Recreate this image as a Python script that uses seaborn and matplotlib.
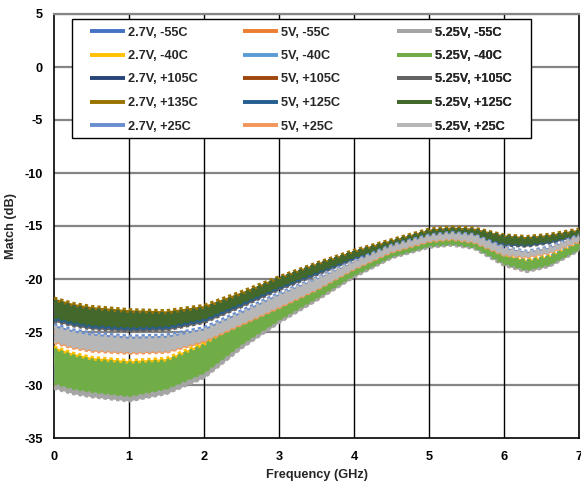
import matplotlib
matplotlib.use("Agg")
import matplotlib.pyplot as plt
import seaborn as sns
import pandas as pd
from matplotlib.lines import Line2D
from matplotlib.patches import Rectangle

# ---------------- data ----------------
freq_ghz = [0, 0.25, 0.5, 1, 1.5, 2, 2.5, 3, 3.5, 4, 4.5, 5, 5.3, 5.6, 6, 6.3, 6.6, 7]

# ripple envelopes (upper / lower), dB
# cold band: -55C / -40C
up_27_m55 = [-26.8, -27.4, -27.8, -28.1, -27.9, -26.4, -24.2, -22.6, -20.7, -18.8, -17.45, -16.45, -16.15, -16.55, -17.85, -18.35, -17.95, -16.65]
lo_27_m55 = [-29.6, -30.1, -30.4, -30.8, -30.1, -28.6, -25.9, -23.7, -21.6, -19.5, -17.8, -16.8, -16.6, -16.9, -18.4, -19.0, -18.5, -17.1]
up_5_m55 = [-27.4, -28.0, -28.4, -28.7, -28.5, -27.0, -24.6, -22.9, -21.0, -19.0, -17.6, -16.6, -16.3, -16.7, -18.0, -18.5, -18.1, -16.8]
lo_5_m55 = [-30.2, -30.7, -31.0, -31.4, -30.7, -29.2, -26.4, -24.0, -21.95, -19.75, -17.95, -16.95, -16.75, -17.05, -18.65, -19.25, -18.75, -17.25]
up_525_m55 = [-27.4, -28.0, -28.4, -28.7, -28.5, -27.0, -24.6, -22.9, -21.0, -19.0, -17.6, -16.6, -16.3, -16.7, -18.0, -18.5, -18.1, -16.8]
lo_525_m55 = [-30.3, -30.8, -31.1, -31.5, -30.8, -29.3, -26.5, -24.1, -22.0, -19.8, -18.0, -17.0, -16.8, -17.1, -18.7, -19.3, -18.8, -17.3]
up_27_m40 = [-26.4, -27.0, -27.4, -27.7, -27.5, -26.0, -23.9, -22.3, -20.5, -18.6, -17.3, -16.3, -16.0, -16.4, -17.7, -18.2, -17.8, -16.5]
lo_27_m40 = [-27.9, -28.5, -28.9, -29.2, -29.0, -27.5, -25.1, -23.2, -21.2, -19.2, -17.7, -16.7, -16.4, -16.8, -18.2, -18.7, -18.3, -16.9]
up_5_m40 = [-26.8, -27.4, -27.8, -28.1, -27.9, -26.4, -24.2, -22.6, -20.7, -18.8, -17.45, -16.45, -16.15, -16.55, -17.85, -18.35, -17.95, -16.65]
lo_5_m40 = [-29.5, -30.0, -30.3, -30.7, -30.0, -28.5, -25.8, -23.6, -21.6, -19.5, -17.8, -16.8, -16.6, -16.9, -18.4, -19.0, -18.5, -17.1]
up_525_m40 = [-26.65, -27.25, -27.65, -27.95, -27.75, -26.25, -24.1, -22.5, -20.65, -18.75, -17.4, -16.4, -16.1, -16.5, -17.8, -18.3, -17.9, -16.6]
lo_525_m40 = [-29.8, -30.3, -30.6, -31.0, -30.3, -28.8, -26.1, -23.8, -21.75, -19.6, -17.85, -16.85, -16.65, -16.95, -18.5, -19.1, -18.6, -17.15]

# hot band: +105C / +125C / +135C
up_27_p105 = [-22.1, -22.6, -22.9, -23.2, -23.3, -22.8, -21.5, -20.0, -18.7, -17.5, -16.5, -15.5, -15.3, -15.4, -16.0, -16.2, -16.0, -15.5]
lo_27_p105 = [-23.8, -24.2, -24.5, -24.7, -24.6, -23.9, -22.4, -20.85, -19.45, -18.0, -17.0, -15.9, -15.7, -15.9, -16.7, -16.8, -16.5, -15.9]
up_5_p105 = [-22.1, -22.6, -22.9, -23.2, -23.3, -22.8, -21.5, -20.0, -18.7, -17.5, -16.5, -15.5, -15.3, -15.4, -16.0, -16.2, -16.0, -15.5]
lo_5_p105 = [-23.8, -24.2, -24.5, -24.7, -24.6, -23.9, -22.4, -20.85, -19.45, -18.0, -17.0, -15.9, -15.7, -15.9, -16.7, -16.8, -16.5, -15.9]
up_525_p105 = [-22.4, -22.9, -23.2, -23.5, -23.5, -23.0, -21.7, -20.2, -18.9, -17.6, -16.6, -15.6, -15.4, -15.5, -16.1, -16.3, -16.1, -15.6]
lo_525_p105 = [-24.0, -24.4, -24.7, -24.9, -24.8, -24.1, -22.6, -21.0, -19.6, -18.1, -17.1, -16.0, -15.8, -16.0, -16.8, -16.9, -16.6, -16.0]
up_27_p135 = [-21.8, -22.3, -22.6, -22.9, -23.0, -22.5, -21.2, -19.8, -18.5, -17.3, -16.3, -15.3, -15.1, -15.2, -15.85, -16.0, -15.8, -15.3]
lo_27_p135 = [-23.0, -23.5, -23.8, -24.1, -24.1, -23.5, -22.0, -20.5, -19.1, -17.8, -16.8, -15.7, -15.5, -15.7, -16.4, -16.5, -16.3, -15.7]
up_5_p125 = [-22.1, -22.6, -22.9, -23.2, -23.3, -22.8, -21.5, -20.0, -18.7, -17.5, -16.5, -15.5, -15.3, -15.4, -16.0, -16.2, -16.0, -15.5]
lo_5_p125 = [-23.8, -24.2, -24.5, -24.7, -24.6, -23.9, -22.4, -20.85, -19.45, -18.0, -17.0, -15.9, -15.7, -15.9, -16.7, -16.8, -16.5, -15.9]
up_525_p125 = [-22.1, -22.6, -22.9, -23.2, -23.3, -22.8, -21.5, -20.0, -18.7, -17.5, -16.5, -15.5, -15.3, -15.4, -16.0, -16.2, -16.0, -15.5]
lo_525_p125 = [-23.6, -24.0, -24.3, -24.5, -24.4, -23.7, -22.2, -20.7, -19.3, -17.9, -16.9, -15.8, -15.6, -15.8, -16.6, -16.7, -16.4, -15.8]

# room band: +25C
up_27_p25 = [-24.3, -24.8, -25.1, -25.4, -25.3, -24.6, -23.0, -21.35, -19.9, -18.3, -16.8, -15.85, -15.6, -15.8, -17.0, -17.4, -17.0, -15.85]
lo_27_p25 = [-25.5, -26.0, -26.3, -26.5, -26.4, -25.6, -23.9, -22.2, -20.6, -18.8, -17.2, -16.2, -16.0, -16.2, -17.4, -17.7, -17.3, -16.2]
up_5_p25 = [-24.9, -25.4, -25.7, -26.0, -25.9, -25.2, -23.6, -21.9, -20.3, -18.6, -17.1, -16.1, -15.9, -16.1, -17.3, -17.6, -17.3, -16.1]
lo_5_p25 = [-26.0, -26.5, -26.8, -27.0, -26.9, -25.9, -24.3, -22.7, -21.0, -19.05, -17.45, -16.45, -16.25, -16.55, -17.75, -17.95, -17.55, -16.45]
up_525_p25 = [-24.5, -25.0, -25.3, -25.6, -25.5, -24.8, -23.2, -21.5, -20.0, -18.4, -16.9, -15.95, -15.7, -15.9, -17.1, -17.5, -17.1, -15.95]
lo_525_p25 = [-25.85, -26.35, -26.65, -26.85, -26.75, -25.75, -24.15, -22.55, -20.9, -18.95, -17.35, -16.35, -16.15, -16.45, -17.65, -17.85, -17.45, -16.35]

series_labels = ["2.7V, -55C", "5V, -55C", "5.25V, -55C",
                 "2.7V, -40C", "5V, -40C", "5.25V, -40C",
                 "2.7V, +105C", "5V, +105C", "5.25V, +105C",
                 "2.7V, +135C", "5V, +125C", "5.25V, +125C",
                 "2.7V, +25C", "5V, +25C", "5.25V, +25C"]
series_up = [up_27_m55, up_5_m55, up_525_m55, up_27_m40, up_5_m40, up_525_m40,
             up_27_p105, up_5_p105, up_525_p105, up_27_p135, up_5_p125, up_525_p125,
             up_27_p25, up_5_p25, up_525_p25]
series_lo = [lo_27_m55, lo_5_m55, lo_525_m55, lo_27_m40, lo_5_m40, lo_525_m40,
             lo_27_p105, lo_5_p105, lo_525_p105, lo_27_p135, lo_5_p125, lo_525_p125,
             lo_27_p25, lo_5_p25, lo_525_p25]
series_colors = ["#4472C4", "#ED7D31", "#A5A5A5", "#FFC000", "#5B9BD5", "#70AD47",
                 "#264478", "#9E480E", "#636363", "#997300", "#255E91", "#43682B",
                 "#698ED0", "#F1975A", "#B7B7B7"]

x_ticks = [0, 1, 2, 3, 4, 5, 6, 7]
y_ticks = [-35, -30, -25, -20, -15, -10, -5, 0, 5]

# ---------------- drawing ----------------
sns.set_theme(style="white")
plt.rcParams["font.family"] = ["Liberation Sans", "DejaVu Sans"]
plt.rcParams["font.weight"] = "bold"
FS = 9.2

W, H = 581, 483
AX_L, AX_R, AX_T, AX_B = 54, 579, 14, 438
fig = plt.figure(figsize=(W / 100, H / 100), dpi=100)
ax = fig.add_axes([AX_L / W, (H - AX_B) / H, (AX_R - AX_L) / W, (AX_B - AX_T) / H])


def ax_x(px):
    return (px - AX_L) / (AX_R - AX_L)


def ax_y(py):
    return (AX_B - py) / (AX_B - AX_T)


for lab, up, lo, col in zip(series_labels, series_up, series_lo, series_colors):
    df = pd.DataFrame({"f": freq_ghz, "up": up, "lo": lo})
    ax.fill_between(df["f"], df["lo"], df["up"], color=col, linewidth=0, zorder=3)
    # serrated ripple edges
    for key in ("up", "lo"):
        sns.lineplot(data=df, x="f", y=key, color=col, lw=2.4, ax=ax, zorder=3,
                     dashes=False, linestyle=(0, (1.0, 0.9)),
                     solid_capstyle="butt", dash_capstyle="butt")

ax.set_xlim(0, 7)
ax.set_ylim(-35, 5)
ax.set_xticks(x_ticks)
ax.set_yticks(y_ticks)
ax.set_xticklabels([str(v) for v in x_ticks], fontsize=FS, fontweight="bold")
ax.set_yticklabels([str(v) for v in y_ticks], fontsize=FS, fontweight="bold")
ax.tick_params(length=0, colors="black")
ax.tick_params(axis="y", pad=8)
ax.tick_params(axis="x", pad=9)

ax.grid(False)
for v in y_ticks[1:]:
    ax.axhline(v, color="#858585", lw=1.6, zorder=1)
for v in x_ticks[1:-1]:
    ax.axvline(v, color="black", lw=1.0, zorder=1)

for s in ["left", "bottom", "right"]:
    ax.spines[s].set_color("black")
    ax.spines[s].set_linewidth(1.2)
    ax.spines[s].set_visible(True)
ax.spines["top"].set_color("#858585")
ax.spines["top"].set_linewidth(1.6)

ax.set_xlabel("Frequency (GHz)", fontsize=FS, fontweight="bold", labelpad=5)
ax.set_ylabel("Match (dB)", fontsize=FS, fontweight="bold", labelpad=5)

# legend frame
frame = Rectangle((ax_x(72), ax_y(138)), ax_x(531) - ax_x(72), ax_y(19) - ax_y(138),
                  transform=ax.transAxes, facecolor="white", edgecolor="black",
                  lw=1.0, zorder=5, clip_on=False)
ax.add_patch(frame)

# legend: one column per supply voltage (row-major like the reference)
col_x = [90, 243, 397]
for c in range(3):
    idx = [c + 3 * r for r in range(5)]
    hs = [Line2D([0], [0], color=series_colors[i], lw=2.8, solid_capstyle="butt") for i in idx]
    lg = ax.legend(hs, [series_labels[i] for i in idx], loc="center left",
                   bbox_to_anchor=(ax_x(col_x[c]), ax_y(79.5)), frameon=False,
                   borderpad=0, borderaxespad=0, handlelength=2.75, handletextpad=0.2,
                   labelspacing=0.9, prop={"weight": "bold", "size": FS})
    lg.set_zorder(6)
    ax.add_artist(lg)

fig.savefig("out.png", dpi=100)
